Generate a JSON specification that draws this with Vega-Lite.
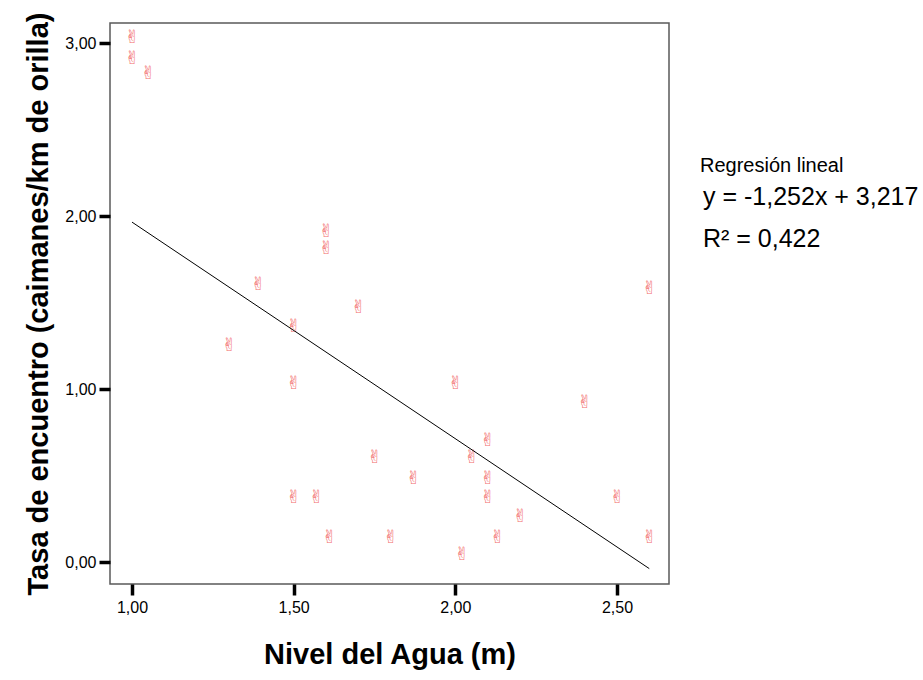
{
  "$schema": "https://vega.github.io/schema/vega-lite/v6.json",
  "width": 559,
  "height": 561,
  "autosize": {"type": "none"},
  "padding": {"left": 110, "top": 23, "right": 254, "bottom": 96},
  "background": "white",
  "config": {
    "font": "Liberation Sans",
    "view": {"stroke": "#5a5a5a", "strokeWidth": 1.5},
    "axis": {
      "domain": false,
      "grid": false,
      "ticks": true,
      "tickColor": "black",
      "tickWidth": 3.5,
      "tickSize": 11,
      "labelFont": "Liberation Sans",
      "labelFontSize": 16,
      "labelColor": "black",
      "titleFont": "Liberation Sans",
      "titleFontSize": 29,
      "titleFontWeight": "bold",
      "titleColor": "black"
    }
  },
  "datasets": {
    "pts": [
      {"nivel": 1.00, "tasa": 3.03},
      {"nivel": 1.00, "tasa": 2.91},
      {"nivel": 1.05, "tasa": 2.82},
      {"nivel": 1.30, "tasa": 1.25},
      {"nivel": 1.39, "tasa": 1.60},
      {"nivel": 1.50, "tasa": 1.36},
      {"nivel": 1.50, "tasa": 1.03},
      {"nivel": 1.50, "tasa": 0.37},
      {"nivel": 1.57, "tasa": 0.37},
      {"nivel": 1.60, "tasa": 1.91},
      {"nivel": 1.60, "tasa": 1.81},
      {"nivel": 1.61, "tasa": 0.14},
      {"nivel": 1.70, "tasa": 1.47},
      {"nivel": 1.75, "tasa": 0.60},
      {"nivel": 1.80, "tasa": 0.14},
      {"nivel": 1.87, "tasa": 0.48},
      {"nivel": 2.00, "tasa": 1.03},
      {"nivel": 2.02, "tasa": 0.04},
      {"nivel": 2.05, "tasa": 0.60},
      {"nivel": 2.10, "tasa": 0.70},
      {"nivel": 2.10, "tasa": 0.48},
      {"nivel": 2.10, "tasa": 0.37},
      {"nivel": 2.13, "tasa": 0.14},
      {"nivel": 2.20, "tasa": 0.26},
      {"nivel": 2.40, "tasa": 0.92},
      {"nivel": 2.50, "tasa": 0.37},
      {"nivel": 2.60, "tasa": 1.58},
      {"nivel": 2.60, "tasa": 0.14}
    ],
    "fit": [
      {"nivel": 1.00, "tasa": 1.965},
      {"nivel": 2.60, "tasa": -0.038}
    ],
    "stats": [
      {"stat": "y = -1,252x + 3,217"},
      {"stat": "R² = 0,422"}
    ]
  },
  "layer": [
    {
      "data": {"name": "pts"},
      "mark": {"type": "text", "text": "✌", "font": "DejaVu Sans", "fontSize": 18, "color": "#f26a6a", "baseline": "middle", "align": "center"},
      "encoding": {
        "x": {
          "field": "nivel", "type": "quantitative",
          "scale": {"domain": [0.932, 2.661], "nice": false, "zero": false},
          "axis": {"values": [1, 1.5, 2, 2.5], "labelExpr": "replace(format(datum.value, '.2f'), '.', ',')", "title": "Nivel del Agua (m)", "labelPadding": 4, "titlePadding": 25}
        },
        "y": {
          "field": "tasa", "type": "quantitative",
          "scale": {"domain": [-0.127, 3.116], "nice": false, "zero": false},
          "axis": {"values": [0, 1, 2, 3], "labelExpr": "replace(format(datum.value, '.2f'), '.', ',')", "title": "Tasa de encuentro (caimanes/km de orilla)", "labelPadding": 3, "titlePadding": 11}
        }
      }
    },
    {
      "data": {"name": "fit"},
      "mark": {"type": "line", "color": "black", "strokeWidth": 1},
      "encoding": {
        "x": {"field": "nivel", "type": "quantitative"},
        "y": {"field": "tasa", "type": "quantitative"}
      }
    },
    {
      "data": {"name": "stats"},
      "mark": {"type": "point", "opacity": 0},
      "encoding": {
        "color": {
          "field": "stat", "type": "nominal",
          "scale": {"domain": ["y = -1,252x + 3,217", "R² = 0,422"], "range": ["black", "black"]},
          "legend": {
            "title": "Regresión lineal",
            "orient": "none",
            "legendX": 590,
            "legendY": 133,
            "titleFont": "Liberation Sans",
            "titleFontSize": 20,
            "titleFontWeight": "normal",
            "titleColor": "black",
            "titlePadding": 8,
            "labelFont": "Liberation Sans",
            "labelFontSize": 25,
            "labelColor": "black",
            "labelLimit": 400,
            "labelOffset": -22,
            "symbolSize": 0.01,
            "symbolStrokeWidth": 0,
            "symbolOpacity": 0,
            "rowPadding": 16
          }
        }
      }
    }
  ]
}
